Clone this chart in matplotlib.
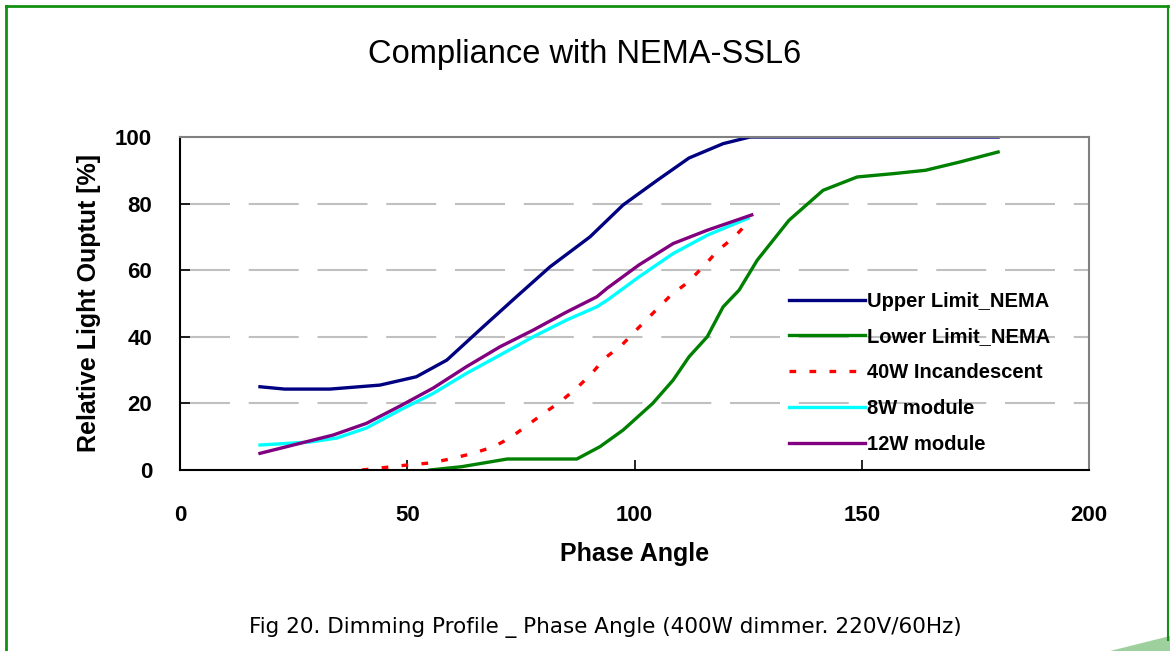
import matplotlib
matplotlib.use("Agg")
import matplotlib.pyplot as plt
from matplotlib.patches import Polygon
from matplotlib.lines import Line2D

# phase angle / relative light output
upper_x = [17.6, 23, 33, 44, 52, 58.7, 66.7, 74, 81.4, 90.2, 97.5, 105, 112, 119.5, 125.4, 180]
upper_y = [25, 24.3, 24.3, 25.5, 28, 33, 43, 52, 61, 70, 79.6, 87, 93.7, 98, 100, 100]

lower_x = [55, 62, 72, 87.3, 92.4, 97.5, 104, 108.5, 112, 116, 119.5, 123, 127, 134, 141.5,
           149, 157, 164, 171.6, 180]
lower_y = [0, 1, 3.3, 3.3, 7, 12, 20, 27, 34, 40, 49, 54, 63, 75, 84, 88, 89, 90, 92.5, 95.5]

inc_x = [40, 50, 55, 59.4, 64.5, 69, 72.6, 76, 80, 83.6, 87.6, 90.6, 93.5, 97.2, 100.8, 104,
         108, 111.8, 115.5, 118.4, 122, 125.4]
inc_y = [0, 1.5, 2.1, 3.3, 5, 7, 9.6, 13, 17, 20.4, 25, 29, 33.6, 37.5, 42.6, 47, 52.5, 56.4,
         61.6, 66, 70, 75]

m8_x = [17.6, 28.6, 34.5, 41, 48.4, 55.7, 63, 70.4, 77.7, 85, 91.7, 94, 101, 108.5, 116, 125]
m8_y = [7.5, 8.4, 9.6, 12.6, 18, 23, 29, 34.5, 40, 45, 49, 51, 58, 65, 70.5, 75.6]

m12_x = [17.6, 26.4, 33.7, 41, 48.4, 55.7, 63, 70.4, 77.7, 85, 91.7, 94, 101, 108.5, 116, 125.8]
m12_y = [5, 8, 10.5, 14, 19.2, 24.6, 31, 37, 42, 47.4, 52, 54.6, 61.6, 68, 72, 76.6]

x_ticks = [0, 50, 100, 150, 200]
y_ticks = [0, 20, 40, 60, 80, 100]

plt.rcParams['font.family'] = ['Liberation Sans', 'DejaVu Sans']

fig = plt.figure(figsize=(11.7, 6.51), dpi=100)
ax = fig.add_axes([180 / 1170, 1 - 470 / 651, (1089 - 180) / 1170, (470 - 137) / 651])

for yv in y_ticks[1:-1]:
    ax.axhline(yv, color='#c0c0c0', lw=1.5, dashes=(24, 9), zorder=0)

lw = 2.4
ax.plot(upper_x, upper_y, color='#000080', lw=lw, label='Upper Limit_NEMA')
ax.plot(lower_x, lower_y, color='#008000', lw=lw, label='Lower Limit_NEMA')
ax.plot(inc_x, inc_y, color='#ff0000', lw=lw, dashes=(2, 4), label='40W Incandescent')
ax.plot(m8_x, m8_y, color='#00ffff', lw=lw, label='8W module')
ax.plot(m12_x, m12_y, color='#800080', lw=lw, label='12W module')

ax.set_xlim(0, 200)
ax.set_ylim(0, 100)
ax.set_xticks(x_ticks)
ax.set_yticks(y_ticks)
ax.tick_params(direction='in', length=7, width=1.2, labelsize=16)
ax.tick_params(axis='x', pad=25)
ax.tick_params(axis='y', pad=20)
for lab in ax.get_xticklabels() + ax.get_yticklabels():
    lab.set_fontweight('bold')

for s in ['left', 'bottom']:
    ax.spines[s].set_color('black')
    ax.spines[s].set_linewidth(1.5)
for s in ['top', 'right']:
    ax.spines[s].set_color('#808080')
    ax.spines[s].set_linewidth(1.5)

ax.set_xlabel('Phase Angle', fontsize=18, fontweight='bold', labelpad=12)
ax.set_ylabel('Relative Light Ouptut [%]', fontsize=18, fontweight='bold', labelpad=10)

leg = ax.legend(loc='upper left', bbox_to_anchor=(0.661, 0.56), frameon=False,
                fontsize=14.5, handlelength=3.8, handletextpad=0.1, labelspacing=0.84,
                borderaxespad=0)
for t in leg.get_texts():
    t.set_fontweight('bold')

fig.text(0.5, 1 - 55 / 651, 'Compliance with NEMA-SSL6', ha='center', va='center', fontsize=23.5)
fig.text(605 / 1170, 1 - 627 / 651, 'Fig 20. Dimming Profile _ Phase Angle (400W dimmer. 220V/60Hz)',
         ha='center', va='center', fontsize=15.5, family=['DejaVu Sans'])

# green page frame
green = '#129012'
fig.add_artist(Line2D([6 / 1170, 6 / 1170], [0, 1 - 6 / 651], transform=fig.transFigure,
                      color=green, lw=2))
fig.add_artist(Line2D([6 / 1170, 1168 / 1170], [1 - 6 / 651, 1 - 6 / 651], transform=fig.transFigure,
                      color=green, lw=2))
fig.add_artist(Line2D([1168 / 1170, 1168 / 1170], [1 - 6 / 651, 1 - 640 / 651], transform=fig.transFigure,
                      color=green, lw=1.5))
fig.add_artist(Polygon([[1110 / 1170, 0], [1170 / 1170, 1 - 636 / 651], [1170 / 1170, 0]],
                       closed=True, transform=fig.transFigure, color='#9dd09d', lw=0))

fig.savefig('out.png', dpi=100)
